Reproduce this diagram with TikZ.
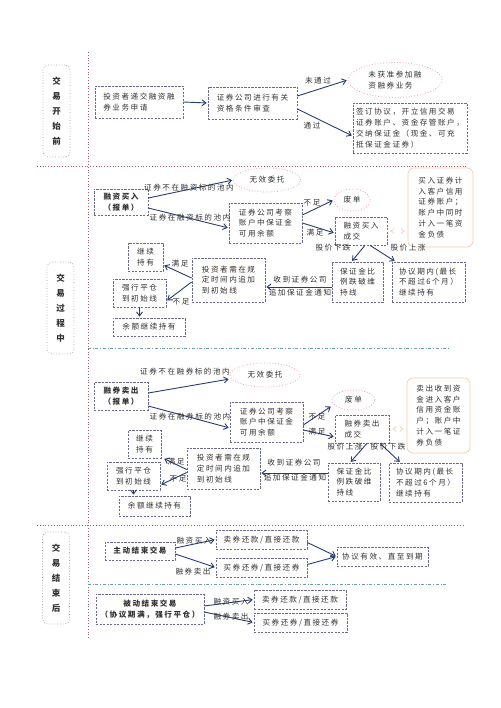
\documentclass[tikz,border=0pt]{standalone}
\usepackage{fontspec}
\setmainfont{Noto Sans CJK SC}[LetterSpace=20]
\usetikzlibrary{shapes.geometric,arrows.meta}

\definecolor{boxc}{RGB}{105,105,150}
\definecolor{flowc}{RGB}{40,60,110}
\definecolor{txtc}{RGB}{50,50,50}
\definecolor{ovalc}{RGB}{235,165,180}
\definecolor{notec}{RGB}{245,200,170}
\definecolor{sidec}{RGB}{165,165,165}
\definecolor{sepc}{RGB}{170,90,110}
\definecolor{subc}{RGB}{110,160,170}

\newcommand{\boxfont}{\fontsize{7.6}{10.8}\selectfont}
\newcommand{\sidefont}{\fontsize{8.5}{15}\selectfont\bfseries}

\begin{document}
\begin{tikzpicture}[x=1pt,y=-1pt,
    box/.style={draw=boxc, dash pattern=on 2.2pt off 1.3pt, line width=0.7pt, text=txtc, align=left, inner sep=1.5pt, font=\boxfont},
    bbox/.style={box, align=center, font=\boxfont\bfseries},
    oval/.style={ellipse, draw=ovalc, dotted, line width=0.8pt, text=txtc, align=left, inner sep=1pt, font=\boxfont},
    note/.style={draw=notec, rounded corners=6pt, line width=0.6pt, text=txtc, align=left, inner sep=1.5pt, font=\boxfont},
    side/.style={draw=sidec, dotted, rounded corners=5pt, line width=0.7pt, text=txtc, align=center, minimum width=27, font=\sidefont},
    lbl/.style={text=txtc, inner sep=0pt, font=\boxfont},
    flow/.style={draw=flowc, line width=0.9pt, -{Straight Barb[length=4pt,width=6pt]}, shorten >=1pt},
    dblarr/.style={draw=notec, double=white, double distance=1.6pt, line width=0.5pt, {Implies}-{Implies}, shorten <=3pt, shorten >=3pt},
    sepline/.style={draw=sepc, dotted, line width=0.8pt},
    subline/.style={draw=subc, dash dot, line width=0.6pt}
]
    \useasboundingbox (0,0) rectangle (500,708);
    \fill[white] (0,0) rectangle (500,708);

    % frame lines
    \draw[sepline] (88,52) -- (88,638);
    \draw[sepline] (37,166) -- (467,166);
    \draw[sepline] (37,525) -- (463,525);
    \draw[subline] (88,348) -- (450,348);
    \draw[subline] (88,584) -- (447,584);

    \node[side, minimum height=92] (sidea) at (56.5,111) {交\\易\\开\\始\\前};
    \node[side, minimum height=92] (sideb) at (60.5,308) {交\\易\\过\\程\\中};
    \node[side, minimum height=92] (sidec) at (56,578) {交\\易\\结\\束\\后};

    % before trading
    \node[box, minimum width=88, minimum height=32] (reqnode) at (139,102) {投资者递交融资融\\券业务申请};
    \node[box, minimum width=89, minimum height=32] (reviewnode) at (252.5,103) {证券公司进行有关\\资格条件审查};
    \node[oval, minimum width=94, minimum height=35] (rejectnode) at (395,80) {未获准参加融\\资融券业务};
    \node[box, minimum width=114, minimum height=50] (signnode) at (410,128) {签订协议，开立信用交易\\证券账户、资金存管账户，\\交纳保证金（现金、可充\\抵保证金证券）};

    \draw[flow] (reqnode.east) -- (reviewnode.west);
    \draw[flow] ([yshift=7pt]reviewnode.east) -- (rejectnode.west);
    \draw[flow] ([yshift=-6pt]reviewnode.east) -- ([yshift=-8pt]signnode.west);
    \node[lbl] (lnopass) at (318,81) {未通过};
    \node[lbl] (lpass) at (312,126) {通过};

    % margin buying
    \node[bbox, minimum width=54, minimum height=26] (buynode) at (121,202) {融资买入\\（报单）};
    \node[oval, minimum width=67, minimum height=24] (inval1node) at (267,180) {无效委托};
    \node[box, minimum width=73, minimum height=40] (check1node) at (265.5,223) {证券公司考察\\账户中保证金\\可用余额};
    \node[oval, minimum width=36, minimum height=22] (void1node) at (352,200) {废单};
    \node[box, minimum width=52, minimum height=28] (deal1node) at (361,231) {融资买入\\成交};
    \node[note, minimum width=65, minimum height=79] (note1node) at (440.5,207.5) {买入证券计\\入客户信用\\证券账户；\\账户中同时\\计入一笔资\\金负债};
    \node[box, minimum width=51, minimum height=40] (drop1node) at (357.5,282) {保证金比\\例跌破维\\持线};
    \node[box, minimum width=73, minimum height=40] (hold1node) at (428.5,282) {协议期内(最长\\不超过6个月）\\继续持有};
    \node[box, minimum width=73, minimum height=44] (add1node) at (228.5,280) {投资者需在规\\定时间内追加\\到初始线};
    \node[box, minimum width=35, minimum height=28] (keep1node) at (145.5,257) {继续\\持有};
    \node[box, minimum width=53, minimum height=28] (force1node) at (139.5,293) {强行平仓\\到初始线};
    \node[box, minimum width=72, minimum height=18] (rest1node) at (149,327) {余额继续持有};

    \draw[flow] ([yshift=4pt]buynode.east) -- (inval1node.west);
    \draw[flow] ([yshift=-6pt]buynode.east) -- ([yshift=-5pt]check1node.west);
    \draw[flow] ([yshift=8pt]check1node.east) -- (void1node.west);
    \draw[flow] (check1node.east) -- ([yshift=-2pt]deal1node.west);
    \draw[dblarr] (deal1node.east) -- (deal1node.east -| note1node.west);
    \draw[flow] ([xshift=4pt]deal1node.south) -- ([xshift=-6pt]drop1node.north);
    \draw[flow] ([xshift=9pt]deal1node.south) -- ([xshift=-33pt]hold1node.north);
    \draw[flow] ([yshift=-5pt]drop1node.west) -- ([yshift=-7pt]add1node.east);
    \draw[flow] ([yshift=2pt]add1node.west) -- ([yshift=-8pt]keep1node.east);
    \draw[flow] ([yshift=-2pt]add1node.west) -- ([yshift=-8pt]force1node.east);
    \draw[flow] (force1node.south) -- (force1node.south |- rest1node.north);

    \node[lbl] (lout1) at (189,188) {证券不在融资标的池内};
    \node[lbl] (lin1) at (190,218) {证券在融资标的池内};
    \node[lbl] (lshort1) at (312,203) {不足};
    \node[lbl] (lok1) at (315,233) {满足};
    \node[lbl] (ldown1) at (333,248) {股价下跌};
    \node[lbl] (lup1) at (408,248) {股价上涨};
    \node[lbl] (lnotice1a) at (300,280) {收到证券公司};
    \node[lbl] (lnotice1b) at (300,293) {追加保证金通知};
    \node[lbl] (lok1b) at (180,264) {满足};
    \node[lbl] (lshort1b) at (181,302) {不足};

    % short selling
    \node[bbox, minimum width=54, minimum height=28] (sellnode) at (121,396) {融券卖出\\（报单）};
    \node[oval, minimum width=70, minimum height=24] (inval2node) at (265,375) {无效委托};
    \node[box, minimum width=73, minimum height=40] (check2node) at (266.5,422) {证券公司考察\\账户中保证金\\可用余额};
    \node[oval, minimum width=43, minimum height=20] (void2node) at (353.5,400) {废单};
    \node[box, minimum width=54, minimum height=28] (deal2node) at (362,429) {融券卖出\\成交};
    \node[note, minimum width=63, minimum height=75] (note2node) at (438.5,415.5) {卖出收到资\\金进入客户\\信用资金账\\户；账户中\\计入一笔证\\券负债};
    \node[box, minimum width=52, minimum height=38] (drop2node) at (354,482) {保证金比\\例跌破维\\持线};
    \node[box, minimum width=73, minimum height=39] (hold2node) at (425.5,482.5) {协议期内(最长\\不超过6个月）\\继续持有};
    \node[box, minimum width=73, minimum height=41] (add2node) at (223.5,468.5) {投资者需在规\\定时间内追加\\到初始线};
    \node[box, minimum width=33, minimum height=28] (keep2node) at (144.5,444) {继续\\持有};
    \node[box, minimum width=53, minimum height=28] (force2node) at (133.5,476) {强行平仓\\到初始线};
    \node[box, minimum width=71, minimum height=20] (rest2node) at (154.5,506) {余额继续持有};

    \draw[flow] ([yshift=3pt]sellnode.east) -- ([yshift=-4pt]inval2node.west);
    \draw[flow] ([yshift=-10pt]sellnode.east) -- ([yshift=-6pt]check2node.west);
    \draw[flow] ([yshift=-3pt]check2node.east) -- ([yshift=-6pt]void2node.west);
    \draw[flow] ([yshift=-8pt]check2node.east) -- ([yshift=-8pt]deal2node.west);
    \draw[dblarr] (deal2node.east) -- (deal2node.east -| note2node.west);
    \draw[flow] ([xshift=5pt]deal2node.south) -- ([xshift=-4pt]drop2node.north);
    \draw[flow] ([xshift=18pt]deal2node.south) -- ([xshift=-25pt]hold2node.north);
    \draw[flow] ([yshift=9pt]drop2node.west) -- ([yshift=-4.5pt]add2node.east);
    \draw[flow] ([yshift=-1pt]add2node.west) -- ([xshift=2pt]keep2node.south east);
    \draw[flow] ([yshift=-4pt]add2node.west) -- ([yshift=-9pt]force2node.east);
    \draw[flow] (force2node.south) -- (force2node.south |- rest2node.north);

    \node[lbl] (lout2) at (185,372) {证券不在融券标的池内};
    \node[lbl] (lin2) at (190,417) {证券在融券标的池内};
    \node[lbl] (lshort2) at (317,417) {不足};
    \node[lbl] (lok2) at (317,432) {满足};
    \node[lbl] (lup2) at (345,447) {股价上涨};
    \node[lbl] (ldown2) at (388,447) {股价下跌};
    \node[lbl] (lnotice2a) at (294,463) {收到证券公司};
    \node[lbl] (lnotice2b) at (295,478) {追加保证金通知};
    \node[lbl] (lok2b) at (176,462) {满足};
    \node[lbl] (lshort2b) at (178,479) {不足};

    % after trading
    \node[bbox, minimum width=70, minimum height=18] (activenode) at (140,551) {主动结束交易};
    \node[box, minimum width=91, minimum height=19] (repay1node) at (261.5,539.5) {卖券还款/直接还款};
    \node[box, minimum width=91, minimum height=19] (return1node) at (261.5,567.5) {买券还券/直接还券};
    \node[box, minimum width=91, minimum height=19] (validnode) at (382.5,556.5) {协议有效、直至到期};
    \node[bbox, minimum width=108, minimum height=30] (passivenode) at (150,609) {被动结束交易\\（协议期满，强行平仓）};
    \node[box, minimum width=92, minimum height=19] (repay2node) at (300,599.5) {卖券还款/直接还款};
    \node[box, minimum width=93, minimum height=19] (return2node) at (300.5,622.5) {买券还券/直接还券};

    \draw[flow] ([yshift=3pt]activenode.east) -- (repay1node.west);
    \draw[flow] ([yshift=-3pt]activenode.east) -- (return1node.west);
    \draw[flow] ([yshift=-3pt]repay1node.east) -- (validnode.west);
    \draw[flow] ([yshift=3pt]return1node.east) -- (validnode.west);
    \draw[flow] ([yshift=3pt]passivenode.east) -- (repay2node.west);
    \draw[flow] ([yshift=-3pt]passivenode.east) -- (return2node.west);

    \node[lbl] (lbuy3) at (194,541) {融资买入};
    \node[lbl] (lsell3) at (193,572) {融券卖出};
    \node[lbl] (lbuy4) at (231,602) {融资买入};
    \node[lbl] (lsell4) at (231,617) {融券卖出};
\end{tikzpicture}
\end{document}
